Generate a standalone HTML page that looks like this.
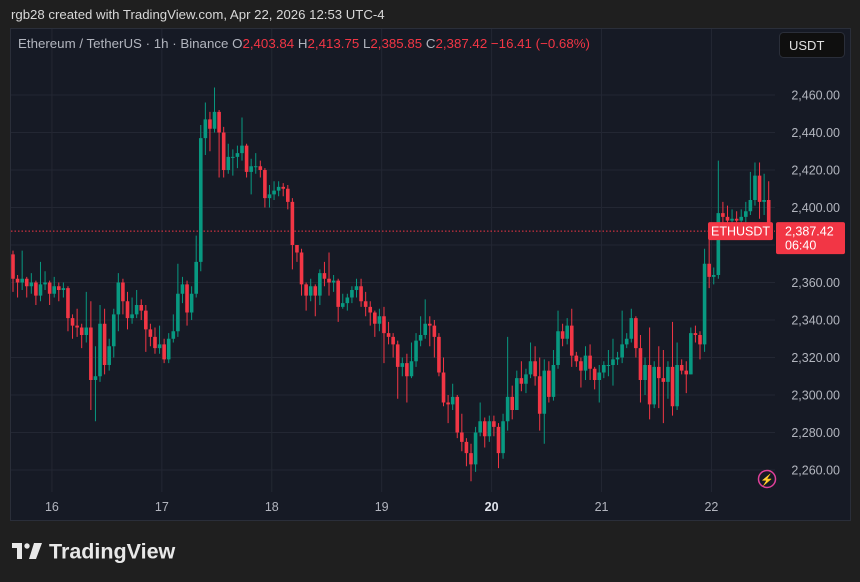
<!DOCTYPE html>
<html><head><meta charset="utf-8"><style>
body{margin:0;background:#1f1f1f;width:860px;height:582px;overflow:hidden;font-family:"Liberation Sans",sans-serif}
svg{display:block}
</style></head><body>
<svg id="c" width="860" height="582">
<rect x="0" y="0" width="860" height="582" fill="#1f1f1f"/>
<text x="11" y="19" fill="#d8d8d8" font-size="13.2">rgb28 created with TradingView.com, Apr 22, 2026 12:53 UTC-4</text>
<rect x="10.5" y="28.5" width="840" height="492" fill="#161a25" stroke="#2a2e39"/>
<g id="grid"></g>
<g id="candles"></g>
<g id="axes"></g>
<text x="18" y="48" font-size="13.3" fill="#b2b5be">Ethereum / TetherUS · 1h · Binance <tspan fill="#b2b5be"> O</tspan><tspan fill="#f23645">2,403.84</tspan><tspan fill="#b2b5be"> H</tspan><tspan fill="#f23645">2,413.75</tspan><tspan fill="#b2b5be"> L</tspan><tspan fill="#f23645">2,385.85</tspan><tspan fill="#b2b5be"> C</tspan><tspan fill="#f23645">2,387.42 −16.41 (−0.68%)</tspan></text>
<rect x="779.5" y="32.5" width="65" height="25" rx="4" fill="#0f0f0f" stroke="#2a2e39"/>
<text x="789" y="50" font-size="13" fill="#e0e0e0">USDT</text>
<circle cx="767" cy="479" r="8.5" fill="none" stroke="#e0409a" stroke-width="1.5"/>
<text x="767" y="483.5" font-size="11" fill="#e0409a" text-anchor="middle">⚡</text>
<g>
<rect x="12" y="543" width="10" height="5" fill="#e8e8e8"/><rect x="17" y="543" width="5" height="16" fill="#e8e8e8"/>
<circle cx="27" cy="546" r="2.7" fill="#e8e8e8"/><polygon points="34,543 42,543 36,559 29,559" fill="#e8e8e8"/>
<text x="49" y="558.5" font-size="21.5" font-weight="bold" fill="#e8e8e8">TradingView</text>
</g>
</svg>
<script>
const closes=[2362,2360,2362,2358,2360,2353,2359,2360,2354,2358,2356,2357,2341,2337,2336,2332,2336,2308,2310,2338,2316,2326,2343,2360,2350,2341,2343,2348,2345,2335,2331,2325,2327,2319,2330,2334,2354,2359,2344,2354,2371,2437,2447,2442,2451,2440,2420,2427,2427,2429,2433,2419,2422,2422,2420,2405,2407,2409,2411,2410,2403,2380,2376,2359,2353,2358,2353,2365,2362,2360,2361,2347,2349,2352,2356,2358,2350,2347,2344,2338,2342,2333,2331,2327,2315,2317,2310,2318,2329,2332,2338,2337,2331,2312,2296,2295,2299,2280,2275,2269,2263,2280,2286,2278,2286,2283,2269,2286,2299,2292,2309,2306,2311,2318,2310,2290,2313,2299,2316,2334,2330,2337,2321,2318,2313,2321,2314,2308,2312,2316,2316,2319,2320,2327,2330,2341,2325,2308,2316,2295,2315,2309,2307,2315,2294,2316,2313,2311,2333,2332,2327,2370,2363,2364,2397,2395,2393,2394,2393,2395,2398,2404,2417,2403,2404,2387.42];
const firstOpen=2375;
const highs=[2377,2364,2377,2363,2365,2361,2371,2366,2361,2363,2360,2360,2358,2343,2346,2338,2355,2350,2326,2348,2346,2330,2346,2365,2362,2355,2352,2356,2351,2348,2338,2336,2337,2330,2333,2343,2370,2363,2361,2358,2385,2444,2456,2451,2464,2452,2443,2434,2431,2433,2448,2434,2426,2429,2425,2421,2412,2414,2414,2413,2412,2405,2380,2378,2360,2362,2359,2367,2371,2376,2364,2362,2354,2354,2358,2362,2362,2355,2350,2345,2346,2347,2339,2333,2329,2320,2322,2328,2333,2342,2351,2342,2340,2333,2320,2300,2306,2300,2290,2277,2274,2283,2296,2288,2289,2289,2285,2290,2331,2305,2313,2318,2314,2328,2326,2320,2319,2318,2324,2345,2338,2341,2346,2323,2320,2326,2327,2315,2316,2318,2324,2330,2323,2345,2333,2346,2342,2332,2320,2336,2318,2326,2324,2318,2339,2328,2319,2318,2336,2337,2334,2378,2389,2368,2425,2403,2401,2399,2398,2399,2403,2419,2424,2424,2418,2414];
const lows=[2355,2352,2356,2352,2354,2348,2350,2356,2348,2352,2350,2352,2334,2330,2331,2325,2328,2292,2286,2307,2311,2313,2320,2334,2343,2335,2338,2341,2340,2323,2326,2322,2322,2317,2317,2328,2331,2349,2337,2340,2352,2366,2428,2430,2440,2416,2416,2418,2417,2421,2425,2416,2407,2418,2416,2400,2400,2404,2406,2406,2399,2367,2371,2353,2345,2350,2342,2348,2358,2353,2355,2339,2346,2345,2349,2352,2347,2342,2337,2331,2334,2317,2327,2320,2298,2310,2296,2309,2315,2326,2330,2326,2320,2310,2294,2285,2292,2277,2270,2262,2254,2259,2278,2272,2275,2278,2261,2266,2281,2287,2297,2302,2301,2309,2305,2281,2274,2296,2297,2314,2326,2327,2315,2315,2304,2308,2308,2303,2296,2309,2310,2305,2316,2317,2325,2328,2320,2296,2300,2287,2293,2293,2285,2298,2289,2292,2311,2301,2311,2328,2319,2323,2357,2359,2362,2388,2388,2388,2389,2390,2391,2396,2401,2394,2396,2385.85];
const priceTicks=[2460,2440,2420,2400,2380,2360,2340,2320,2300,2280,2260];
const dayLabels=["16","17","18","19","20","21","22"];
const dayStartIndex=[8.5,32.5,56.5,80.5,104.5,128.5,152.5];
const lastPrice=2387.42;

const NS="http://www.w3.org/2000/svg";
function yS(p){return 95+(2460-p)*1.875;}
function xS(i){return 13+i*4.58;}
function mk(tag,attrs,parent){const e=document.createElementNS(NS,tag);for(const k in attrs)e.setAttribute(k,attrs[k]);parent.appendChild(e);return e;}
const grid=document.getElementById('grid'),cg=document.getElementById('candles'),ax=document.getElementById('axes');
priceTicks.forEach(p=>{
  const l=mk('line',{x1:11,x2:775,y1:yS(p),y2:yS(p),stroke:'#232733','stroke-width':1},grid);
  
  
  const t=mk('text',{x:840,y:yS(p)+4.5,'font-size':12.5,fill:'#b2b5be','text-anchor':'end'},ax);
  t.textContent=p.toLocaleString('en-US',{minimumFractionDigits:2});
  
  
});
dayLabels.forEach((d,k)=>{
  const x=xS(dayStartIndex[k]);
  const l=mk('line',{x1:x,x2:x,y1:29,y2:492,stroke:'#232733','stroke-width':1},grid);
  
  
  const t=mk('text',{x:x,y:511,'font-size':12.5,fill:d==='20'?'#e0e3eb':'#b2b5be','font-weight':d==='20'?'bold':'normal','text-anchor':'middle'},ax);
  t.textContent=d;
  
  
});
const pl=mk('line',{x1:11,x2:775,y1:yS(lastPrice),y2:yS(lastPrice),stroke:'#f23645','stroke-width':1,'stroke-dasharray':'1.5 2'},grid);


closes.forEach((c,i)=>{
  const o=i===0?firstOpen:closes[i-1];
  const col=c>=o?'#089981':'#f23645';
  const x=xS(i);
  const w=mk('line',{x1:x,x2:x,y1:yS(highs[i]),y2:yS(lows[i]),stroke:col,'stroke-width':1},cg);
  
  
  const top=yS(Math.max(o,c)),bot=yS(Math.min(o,c));
  const b=mk('rect',{x:x-1.8,y:top,width:3.6,height:Math.max(1,bot-top),fill:col},cg);
  
  
});
const ly=yS(lastPrice);
const r1=mk('rect',{x:708,y:ly-9,width:65,height:18,rx:2,fill:'#f23645'},ax);


const t1=mk('text',{x:740.5,y:ly+4.5,'font-size':12.5,fill:'#fff','text-anchor':'middle'},ax);
t1.textContent='ETHUSDT';


const r2=mk('rect',{x:776,y:ly-9,width:69,height:32,rx:2,fill:'#f23645'},ax);


const t2=mk('text',{x:785,y:ly+4.5,'font-size':12.5,fill:'#fff'},ax);
t2.textContent='2,387.42';


const t3=mk('text',{x:785,y:ly+18.5,'font-size':12.5,fill:'#fff'},ax);
t3.textContent='06:40';


</script>
</body></html>
